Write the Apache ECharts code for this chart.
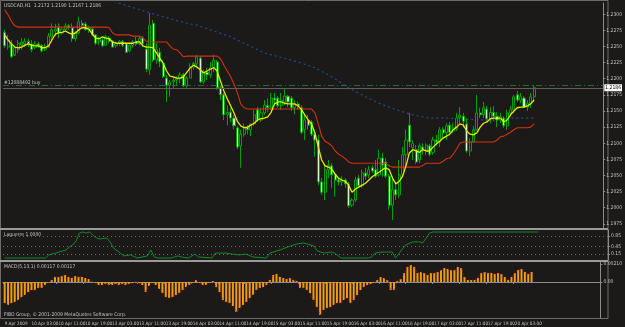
<!DOCTYPE html>
<html><head><meta charset="utf-8">
<script src="https://cdn.jsdelivr.net/npm/echarts/dist/echarts.min.js"></script>
<style>html,body{margin:0;padding:0;background:#1b1a18;}#c{width:625px;height:327px;}</style>
</head><body><div id="c"></div>
<script>
const timeLabels = ['9 Apr 2009','10 Apr 03:00','10 Apr 11:00','10 Apr 19:00','13 Apr 03:00','13 Apr 11:00','13 Apr 19:00','14 Apr 03:00','14 Apr 11:00','14 Apr 19:00','15 Apr 03:00','15 Apr 11:00','15 Apr 19:00','16 Apr 03:00','16 Apr 11:00','16 Apr 19:00','17 Apr 03:00','17 Apr 11:00','17 Apr 19:00','20 Apr 03:00'];
const openP = [1.2272,1.2249,1.2254,1.2237,1.2245,1.2252,1.2254,1.2258,1.2254,1.2248,1.2254,1.2252,1.2245,1.2249,1.2265,1.2274,1.2280,1.2271,1.2276,1.2282,1.2279,1.2262,1.2271,1.2286,1.2285,1.2276,1.2277,1.2268,1.2257,1.2260,1.2252,1.2263,1.2258,1.2251,1.2255,1.2258,1.2254,1.2243,1.2252,1.2258,1.2254,1.2263,1.2246,1.2214,1.2286,1.2229,1.2241,1.2224,1.2201,1.2190,1.2195,1.2198,1.2200,1.2206,1.2189,1.2201,1.2218,1.2223,1.2232,1.2195,1.2210,1.2206,1.2217,1.2226,1.2186,1.2175,1.2144,1.2148,1.2139,1.2124,1.2096,1.2114,1.2125,1.2121,1.2130,1.2152,1.2136,1.2147,1.2159,1.2155,1.2170,1.2170,1.2158,1.2164,1.2173,1.2170,1.2155,1.2161,1.2155,1.2121,1.2136,1.2133,1.2114,1.2105,1.2040,1.2024,1.2059,1.2065,1.2051,1.2043,1.2040,1.2043,1.2037,1.2004,1.2012,1.2046,1.2034,1.2054,1.2051,1.2062,1.2059,1.2051,1.2077,1.2071,1.2049,1.2004,1.2028,1.2020,1.2051,1.2082,1.2128,1.2093,1.2090,1.2074,1.2094,1.2090,1.2096,1.2086,1.2105,1.2102,1.2121,1.2116,1.2128,1.2119,1.2122,1.2139,1.2142,1.2130,1.2088,1.2102,1.2121,1.2147,1.2144,1.2153,1.2138,1.2148,1.2142,1.2136,1.2139,1.2127,1.2147,1.2152,1.2175,1.2167,1.2170,1.2156,1.2162,1.2172];
const closeP = [1.2251,1.2260,1.2234,1.2248,1.2255,1.2257,1.2258,1.2254,1.2245,1.2254,1.2251,1.2243,1.2249,1.2266,1.2276,1.2277,1.2271,1.2277,1.2282,1.2279,1.2262,1.2271,1.2288,1.2283,1.2276,1.2279,1.2268,1.2255,1.2262,1.2251,1.2265,1.2258,1.2249,1.2255,1.2258,1.2252,1.2241,1.2252,1.2257,1.2254,1.2263,1.2254,1.2215,1.2283,1.2229,1.2245,1.2226,1.2203,1.2190,1.2195,1.2198,1.2200,1.2206,1.2189,1.2201,1.2218,1.2224,1.2234,1.2195,1.2210,1.2206,1.2217,1.2229,1.2186,1.2175,1.2144,1.2148,1.2139,1.2127,1.2094,1.2114,1.2125,1.2121,1.2130,1.2144,1.2136,1.2147,1.2159,1.2155,1.2170,1.2167,1.2158,1.2167,1.2173,1.2164,1.2155,1.2161,1.2158,1.2117,1.2136,1.2128,1.2114,1.2105,1.2040,1.2024,1.2059,1.2066,1.2051,1.2043,1.2040,1.2043,1.2037,1.2003,1.2012,1.2043,1.2034,1.2054,1.2049,1.2059,1.2057,1.2049,1.2077,1.2066,1.2049,1.2004,1.2028,1.2020,1.2051,1.2082,1.2105,1.2102,1.2100,1.2071,1.2096,1.2090,1.2097,1.2083,1.2105,1.2102,1.2121,1.2116,1.2127,1.2117,1.2124,1.2139,1.2144,1.2134,1.2088,1.2102,1.2121,1.2147,1.2144,1.2155,1.2138,1.2148,1.2142,1.2136,1.2141,1.2127,1.2147,1.2152,1.2172,1.2167,1.2172,1.2156,1.2162,1.2172,1.2186];
const lowP = [1.2248,1.2245,1.2232,1.2235,1.2240,1.2245,1.2249,1.2249,1.2241,1.2246,1.2248,1.2241,1.2243,1.2248,1.2257,1.2266,1.2263,1.2268,1.2274,1.2276,1.2257,1.2258,1.2269,1.2279,1.2274,1.2271,1.2266,1.2252,1.2252,1.2249,1.2251,1.2255,1.2248,1.2248,1.2251,1.2249,1.2240,1.2241,1.2248,1.2251,1.2252,1.2249,1.2210,1.2206,1.2226,1.2223,1.2218,1.2201,1.2164,1.2172,1.2186,1.2189,1.2193,1.2187,1.2186,1.2201,1.2214,1.2218,1.2193,1.2192,1.2198,1.2201,1.2210,1.2183,1.2167,1.2136,1.2128,1.2133,1.2121,1.2091,1.2062,1.2110,1.2114,1.2111,1.2127,1.2133,1.2133,1.2144,1.2148,1.2152,1.2161,1.2155,1.2152,1.2159,1.2156,1.2150,1.2145,1.2152,1.2114,1.2105,1.2121,1.2111,1.2079,1.2035,1.2020,1.2012,1.2046,1.2031,1.2017,1.2035,1.2034,1.2031,1.2000,1.2001,1.2009,1.2031,1.2031,1.2043,1.2046,1.2054,1.2046,1.2048,1.2048,1.2046,1.1997,1.1981,1.2012,1.2015,1.2046,1.2062,1.2094,1.2074,1.2068,1.2069,1.2082,1.2082,1.2080,1.2082,1.2096,1.2094,1.2108,1.2105,1.2114,1.2116,1.2119,1.2131,1.2124,1.2085,1.2080,1.2102,1.2119,1.2139,1.2139,1.2134,1.2131,1.2134,1.2125,1.2131,1.2124,1.2121,1.2142,1.2147,1.2164,1.2162,1.2155,1.2150,1.2155,1.2167];
const highP = [1.2276,1.2268,1.2260,1.2251,1.2260,1.2263,1.2263,1.2262,1.2260,1.2258,1.2257,1.2254,1.2254,1.2271,1.2286,1.2285,1.2286,1.2279,1.2286,1.2285,1.2286,1.2274,1.2296,1.2291,1.2288,1.2282,1.2280,1.2269,1.2265,1.2263,1.2268,1.2266,1.2260,1.2258,1.2260,1.2260,1.2257,1.2255,1.2260,1.2265,1.2266,1.2266,1.2255,1.2302,1.2291,1.2255,1.2248,1.2229,1.2206,1.2198,1.2203,1.2204,1.2210,1.2209,1.2204,1.2224,1.2226,1.2237,1.2235,1.2214,1.2217,1.2226,1.2237,1.2229,1.2190,1.2178,1.2159,1.2155,1.2144,1.2127,1.2121,1.2131,1.2128,1.2131,1.2152,1.2156,1.2155,1.2167,1.2170,1.2178,1.2178,1.2173,1.2178,1.2184,1.2175,1.2173,1.2167,1.2165,1.2159,1.2144,1.2144,1.2136,1.2121,1.2113,1.2046,1.2066,1.2074,1.2069,1.2055,1.2046,1.2049,1.2046,1.2040,1.2015,1.2048,1.2051,1.2059,1.2062,1.2065,1.2066,1.2074,1.2090,1.2085,1.2077,1.2052,1.2048,1.2040,1.2074,1.2094,1.2121,1.2147,1.2105,1.2097,1.2100,1.2100,1.2100,1.2099,1.2110,1.2113,1.2125,1.2125,1.2131,1.2133,1.2131,1.2147,1.2156,1.2147,1.2139,1.2108,1.2127,1.2175,1.2155,1.2164,1.2158,1.2156,1.2158,1.2148,1.2147,1.2142,1.2152,1.2158,1.2175,1.2181,1.2178,1.2173,1.2167,1.2178,1.2190];
const maLine = [1.2268,1.2260,1.2254,1.2249,1.2248,1.2249,1.2252,1.2254,1.2252,1.2251,1.2251,1.2248,1.2248,1.2251,1.2260,1.2269,1.2271,1.2272,1.2274,1.2271,1.2269,1.2271,1.2276,1.2279,1.2279,1.2277,1.2269,1.2263,1.2262,1.2265,1.2263,1.2262,1.2257,1.2255,1.2255,1.2255,1.2255,1.2255,1.2255,1.2257,1.2257,1.2251,1.2249,1.2249,1.2248,1.2240,1.2232,1.2224,1.2212,1.2204,1.2203,1.2201,1.2201,1.2203,1.2210,1.2217,1.2221,1.2218,1.2214,1.2209,1.2212,1.2215,1.2217,1.2212,1.2196,1.2181,1.2169,1.2158,1.2147,1.2134,1.2127,1.2124,1.2125,1.2128,1.2131,1.2136,1.2138,1.2139,1.2141,1.2148,1.2161,1.2164,1.2164,1.2162,1.2161,1.2161,1.2161,1.2158,1.2152,1.2144,1.2136,1.2130,1.2116,1.2094,1.2074,1.2065,1.2063,1.2060,1.2052,1.2046,1.2043,1.2041,1.2035,1.2024,1.2029,1.2032,1.2035,1.2038,1.2043,1.2048,1.2052,1.2055,1.2059,1.2062,1.2059,1.2046,1.2037,1.2041,1.2049,1.2065,1.2085,1.2090,1.2088,1.2086,1.2090,1.2088,1.2088,1.2094,1.2099,1.2103,1.2108,1.2111,1.2114,1.2121,1.2125,1.2130,1.2128,1.2119,1.2114,1.2113,1.2116,1.2125,1.2131,1.2133,1.2138,1.2139,1.2139,1.2139,1.2133,1.2136,1.2144,1.2150,1.2155,1.2156,1.2156,1.2158,1.2161,1.2167];
const stopLine = [1.2307,1.2299,1.2289,1.2282,1.2280,1.2280,1.2280,1.2280,1.2280,1.2280,1.2280,1.2280,1.2280,1.2280,1.2280,1.2280,1.2280,1.2280,1.2280,1.2280,1.2280,1.2280,1.2280,1.2280,1.2280,1.2280,1.2280,1.2280,1.2280,1.2280,1.2280,1.2279,1.2271,1.2268,1.2268,1.2268,1.2268,1.2268,1.2266,1.2266,1.2266,1.2263,1.2258,1.2257,1.2257,1.2257,1.2257,1.2257,1.2257,1.2251,1.2246,1.2245,1.2240,1.2234,1.2235,1.2235,1.2235,1.2235,1.2235,1.2235,1.2235,1.2235,1.2235,1.2235,1.2231,1.2221,1.2212,1.2203,1.2192,1.2178,1.2161,1.2155,1.2153,1.2153,1.2153,1.2153,1.2153,1.2153,1.2153,1.2153,1.2153,1.2153,1.2153,1.2153,1.2153,1.2153,1.2153,1.2153,1.2153,1.2153,1.2153,1.2153,1.2147,1.2130,1.2111,1.2103,1.2100,1.2096,1.2088,1.2083,1.2080,1.2076,1.2071,1.2069,1.2069,1.2069,1.2069,1.2069,1.2069,1.2069,1.2069,1.2069,1.2069,1.2069,1.2065,1.2063,1.2063,1.2063,1.2063,1.2063,1.2063,1.2063,1.2063,1.2063,1.2066,1.2069,1.2069,1.2069,1.2069,1.2069,1.2072,1.2076,1.2077,1.2083,1.2091,1.2100,1.2102,1.2102,1.2102,1.2102,1.2102,1.2102,1.2102,1.2102,1.2102,1.2102,1.2105,1.2110,1.2111,1.2114,1.2117,1.2121,1.2124,1.2124,1.2124,1.2124,1.2125,1.2130];
const trendLine = [[31,1.2322],[43,1.2302],[54,1.2286],[57,1.2283],[67,1.2265],[77,1.2240],[87,1.2226],[92,1.2217],[97,1.2203],[102,1.2186],[107,1.2172],[111,1.2162],[116,1.2152],[121,1.2144],[126,1.2139],[131,1.2139],[141,1.2136],[149,1.2139],[157,1.2139]];
const laguerre = [[0,0],[12,0],[13,0.12],[15,0.19],[16,0.23],[18,0.31],[19,0.42],[20,0.5],[21,0.65],[22,0.96],[23,1.0],[24,0.96],[25,1.0],[26,0.88],[27,0.77],[28,0.73],[30,0.77],[31,0.62],[32,0.38],[34,0.19],[35,0.08],[37,0.12],[39,0],[42,0.08],[43,0.31],[44,0.04],[45,0],[49,0],[51,0.08],[52,0.04],[54,0],[56,0.15],[57,0.04],[61,0],[62,0.19],[65,0.19],[67,0.15],[69,0.12],[71,0.15],[73,0.04],[77,0],[78,0.19],[81,0.31],[84,0.46],[86,0.54],[88,0.58],[89,0.54],[91,0.46],[92,0.27],[94,0.19],[96,0.23],[97,0.19],[99,0],[107,0],[108,0.04],[109,0.19],[111,0.23],[114,0.23],[115,0],[117,0.35],[118,0.5],[120,0.62],[122,0.62],[123,0.58],[124,0.77],[125,0.96],[126,1.0],[157,1.0]];
const laguerreLevels = [0.15, 0.45, 0.85];
const laguerreTicks = [0, 0.15, 0.45, 0.85, 1.0];
const macd = [-0.00246,-0.00269,-0.00246,-0.00234,-0.00211,-0.00176,-0.00152,-0.00117,-0.00094,-0.00094,-0.00070,-0.00070,-0.00035,-0.00012,0.00023,0.00059,0.00059,0.00070,0.00082,0.00059,0.00047,0.00070,0.00059,0.00059,0.00047,0.00035,0.00002,-0.00012,-0.00035,-0.00035,-0.00023,-0.00035,-0.00035,-0.00023,-0.00035,-0.00023,-0.00035,-0.00023,-0.00012,0.00002,-0.00012,-0.00035,-0.00117,-0.00047,-0.00012,-0.00035,-0.00082,-0.00129,-0.00176,-0.00187,-0.00176,-0.00152,-0.00129,-0.00094,-0.00059,-0.00035,-0.00012,0.00023,-0.00012,-0.00035,-0.00035,-0.00012,0.00012,-0.00059,-0.00117,-0.00211,-0.00234,-0.00246,-0.00281,-0.00351,-0.00304,-0.00269,-0.00234,-0.00187,-0.00152,-0.00094,-0.00070,-0.00059,-0.00035,0.00023,0.00082,0.00094,0.00059,0.00047,0.00035,0.00047,0.00023,0.00012,-0.00070,-0.00070,-0.00094,-0.00129,-0.00211,-0.00293,-0.00386,-0.00328,-0.00304,-0.00293,-0.00269,-0.00246,-0.00246,-0.00211,-0.00187,-0.00246,-0.00211,-0.00152,-0.00094,-0.00059,-0.00035,-0.00023,-0.00012,0.00023,0.00059,0.00047,0.00023,-0.00094,-0.00094,0.00012,0.00035,0.00105,0.00176,0.00199,0.00176,0.00105,0.00117,0.00105,0.00082,0.00105,0.00105,0.00117,0.00140,0.00164,0.00152,0.00140,0.00140,0.00176,0.00164,0.00059,0.00023,0.00023,0.00023,0.00047,0.00105,0.00117,0.00105,0.00105,0.00094,0.00105,0.00094,0.00059,0.00023,0.00059,0.00105,0.00140,0.00152,0.00117,0.00094,0.00117];
const macdTicks = [-0.00422, 0, 0.00210];
const priceTicks = [1.1975,1.2000,1.2025,1.2050,1.2075,1.2100,1.2125,1.2150,1.2175,1.2200,1.2225,1.2250,1.2275,1.2300];
const bidPrice = 1.2186;
const orderPrice = 1.2190;

const N = 178;
const cats = Array.from({length: N}, (_, i) => String(i));
const BG = '#1b1a18', TXT = '#c4c4c4', AX = '#8c8c8c';
const FONT = '"Liberation Sans Narrow", "DejaVu Sans Condensed", "Liberation Sans", sans-serif';
const FS = 5;
const FSX = 4.6;
const showTick = (i) => i % 8 === 0 && i / 8 < timeLabels.length;

const grids = [
  {left: 3, right: 17, top: 3, height: 225},
  {left: 3, right: 17, top: 230, height: 30},
  {left: 3, right: 17, top: 262, height: 56}
];
const xAxes = grids.map((g, k) => ({
  type: 'category', gridIndex: k, data: cats, boundaryGap: true,
  axisLine: {show: k === 2, lineStyle: {color: AX}},
  axisTick: {show: k === 2, interval: showTick, length: 2, lineStyle: {color: AX}},
  axisLabel: {show: k === 2, interval: showTick, showMinLabel: true, align: 'left', margin: 3, color: TXT, fontSize: FSX, fontFamily: FONT,
    formatter: (v) => timeLabels[+v / 8] || ''},
  splitLine: {show: false}
}));
const yBase = {type: 'value', position: 'right', splitLine: {show: false},
  axisLine: {show: true, lineStyle: {color: AX}}};
const yAxes = [
  Object.assign({}, yBase, {gridIndex: 0, min: 1.19686, max: 1.23174,
    axisTick: {show: true, length: 2, customValues: priceTicks, lineStyle: {color: AX}},
    axisLabel: {customValues: priceTicks, formatter: (v) => v.toFixed(4), color: TXT, fontSize: FS, fontFamily: FONT, margin: 3}}),
  Object.assign({}, yBase, {gridIndex: 1, min: -0.077, max: 1.077,
    axisTick: {show: true, length: 2, customValues: laguerreTicks, lineStyle: {color: AX}},
    axisLabel: {customValues: laguerreTicks, formatter: (v) => v.toFixed(2), color: TXT, fontSize: FS, fontFamily: FONT, margin: 3}}),
  Object.assign({}, yBase, {gridIndex: 2, min: -0.00421, max: 0.00234,
    axisTick: {show: true, length: 2, customValues: macdTicks, lineStyle: {color: AX}},
    axisLabel: {customValues: macdTicks, formatter: (v) => v === 0 ? '0.00' : v.toFixed(5), color: TXT, fontSize: FS, fontFamily: FONT, margin: 3}})
];

const candles = openP.map((o, i) => [o, closeP[i], lowP[i], highP[i]]);
const last = candles.length - 1;
const titleText = 'USDCAD,H1  ' + [openP[last], highP[last], lowP[last], closeP[last]].map(v => v.toFixed(4)).join(' ');
const macdLast = macd[macd.length - 1].toFixed(5);

const chart = echarts.init(document.getElementById('c'), null, {renderer: 'canvas'});
chart.setOption({
  backgroundColor: BG,
  animation: false,
  grid: grids,
  xAxis: xAxes,
  yAxis: yAxes,
  series: [
    {type: 'line', xAxisIndex: 0, yAxisIndex: 0, data: trendLine, showSymbol: false,
      lineStyle: {color: '#1d4f8c', width: 1.2, type: [2, 3]}, z: 1},
    {type: 'candlestick', xAxisIndex: 0, yAxisIndex: 0, data: candles, barWidth: 2.6, z: 2,
      itemStyle: {color: BG, color0: '#c8ffc8', borderColor: '#00a000', borderColor0: '#00a000', borderWidth: 1},
      markLine: {silent: true, symbol: 'none', animation: false, precision: 5,
        data: [
          {yAxis: orderPrice, lineStyle: {color: '#1f6b3a', type: [6, 3, 1, 3], width: 1}, label: {show: false}},
          {yAxis: bidPrice, lineStyle: {color: '#5e5e5e', type: 'solid', width: 1},
            label: {show: true, position: 'end', distance: 1, formatter: bidPrice.toFixed(4), backgroundColor: '#ffffff', color: '#000', fontSize: FS, fontFamily: FONT, padding: [1, 1]}}
        ]}},
    {type: 'line', xAxisIndex: 0, yAxisIndex: 0, data: stopLine, showSymbol: false, z: 3,
      lineStyle: {color: '#d4320c', width: 1.1}},
    {type: 'line', xAxisIndex: 0, yAxisIndex: 0, data: maLine, showSymbol: false, z: 4,
      lineStyle: {color: '#e8e800', width: 1.3}},
    {type: 'line', xAxisIndex: 1, yAxisIndex: 1, data: laguerre, showSymbol: false,
      lineStyle: {color: '#0f8a2a', width: 1},
      markLine: {silent: true, symbol: 'none', label: {show: false}, precision: 3,
        lineStyle: {color: '#6a6a6a', type: [1, 3], width: 1},
        data: laguerreLevels.map(v => ({yAxis: v}))}},
    {type: 'bar', xAxisIndex: 2, yAxisIndex: 2, data: macd, barWidth: 2,
      itemStyle: {color: '#f29a12'}},
    {type: 'line', xAxisIndex: 2, yAxisIndex: 2, data: macd, showSymbol: false,
      lineStyle: {color: '#b01010', width: 1, type: [1, 2]}}
  ],
  graphic: [
    {type: 'rect', shape: {x: 0.5, y: 0.5, width: 607.5, height: 318}, style: {fill: 'none', stroke: '#6c6c6c', lineWidth: 1}, silent: true},
    {type: 'rect', shape: {x: 0, y: 228, width: 608, height: 2}, style: {fill: '#9a9a9a'}, silent: true},
    {type: 'rect', shape: {x: 0, y: 260, width: 608, height: 2}, style: {fill: '#9a9a9a'}, silent: true},
    {type: 'text', x: 4, y: 3, style: {text: titleText, fill: TXT, font: FS + 'px ' + FONT}},
    {type: 'text', x: 4, y: 80, style: {text: '#12088492 buy', fill: TXT, font: FS + 'px ' + FONT}},
    {type: 'text', x: 4, y: 232, style: {text: 'Laguerre 1.0000', fill: TXT, font: FS + 'px ' + FONT}},
    {type: 'text', x: 4, y: 264, style: {text: 'MACD(5,13,1) ' + macdLast + ' ' + macdLast, fill: TXT, font: FS + 'px ' + FONT}},
    {type: 'text', x: 4, y: 312, style: {text: 'FIBO Group, © 2001-2009 MetaQuotes Software Corp.', fill: TXT, font: FS + 'px ' + FONT}}
  ]
});
</script></body></html>
